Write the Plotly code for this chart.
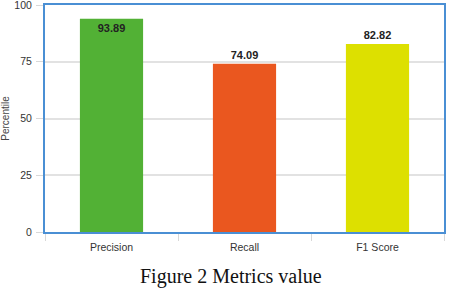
import plotly.graph_objects as go

categories = ["Precision", "Recall", "F1 Score"]
values = [93.89, 74.09, 82.82]
value_labels = ["93.89", "74.09", "82.82"]
bar_colors = ["#52B135", "#EA571F", "#DDE000"]
label_positions = ["inside", "outside", "outside"]
y_ticks = [0, 25, 50, 75, 100]

fig = go.Figure()
fig.add_trace(go.Bar(
    x=categories, y=values, text=value_labels,
    textposition=label_positions, insidetextanchor="end",
    textfont=dict(family="Liberation Sans, Arial", size=11, color="#222222", weight="bold"),
    marker=dict(color=bar_colors, line=dict(width=0)),
    cliponaxis=False, width=0.475,
))

fig.update_layout(
    width=454, height=288,
    margin=dict(l=45, r=10, t=5, b=56),
    paper_bgcolor="white", plot_bgcolor="white",
    showlegend=False,
    font=dict(family="Liberation Sans, Arial", size=10, color="#333333"),
)
fig.update_xaxes(
    showline=True, linecolor="#4A8FD4", linewidth=2, mirror=True,
    ticks="outside", tickson="boundaries", tickcolor="#D8D8D8", ticklen=7,
    ticklabelstandoff=4, automargin=False,
    tickfont=dict(size=10.5, color="#333333"), showgrid=False,
)
fig.update_yaxes(
    range=[0, 100], tickvals=y_ticks, automargin=False,
    ticklabeloverflow="allow",
    showline=True, linecolor="#4A8FD4", linewidth=2, mirror=True,
    ticks="outside", tickcolor="#D8D8D8", ticklen=7, ticklabelstandoff=2,
    showgrid=True, gridcolor="#E2E2E2", gridwidth=1.5, zeroline=False,
    tickfont=dict(size=10.5, color="#333333"),
    title=dict(text="Percentile", font=dict(size=10, color="#444444"), standoff=8),
)
fig.add_annotation(
    text="Figure 2 Metrics value", xref="paper", yref="paper",
    x=0.467, y=-0.194, xanchor="center", yanchor="middle", showarrow=False,
    font=dict(family="Liberation Serif, DejaVu Serif", size=20, color="#111111"),
)
fig.write_html("out.html")
